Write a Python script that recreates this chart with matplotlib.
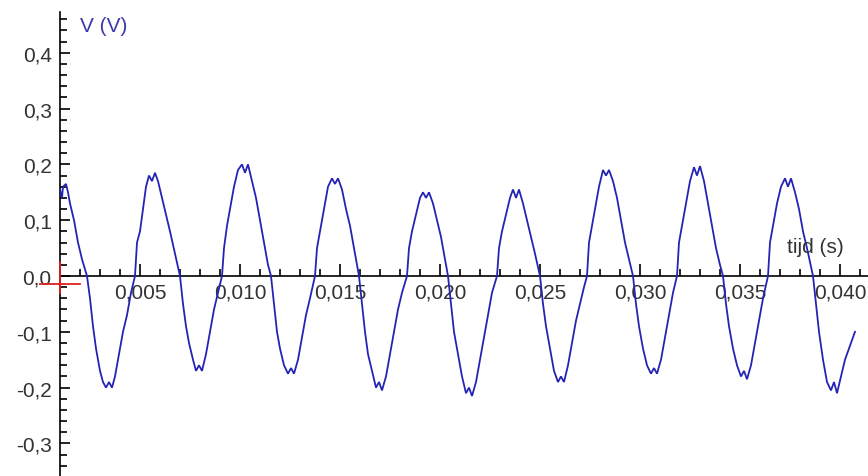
import matplotlib
matplotlib.use("Agg")
import matplotlib.pyplot as plt
from matplotlib.ticker import MultipleLocator, FuncFormatter, FixedLocator

# time in ms, voltage in V
t_ms = [1.00, 1.10, 1.15, 1.30, 1.40, 1.50, 1.70, 1.90, 2.10, 2.35, 2.50, 2.65, 2.80, 3.00, 3.15, 3.30, 3.45, 3.60, 3.75, 3.95,
        4.15, 4.35, 4.55, 4.75, 4.85, 5.00, 5.15, 5.30, 5.45, 5.60, 5.75, 5.90, 6.10, 6.30, 6.50, 6.75, 7.00, 7.15, 7.30, 7.45,
        7.65, 7.80, 7.95, 8.10, 8.30, 8.50, 8.70, 8.90, 9.10, 9.20, 9.35, 9.50, 9.70, 9.90, 10.10, 10.25, 10.40, 10.60, 10.80, 11.00,
        11.20, 11.40, 11.55, 11.70, 11.85, 12.00, 12.20, 12.40, 12.55, 12.70, 12.90, 13.10, 13.30, 13.50, 13.75, 13.85, 14.00, 14.20, 14.40, 14.60,
        14.75, 14.90, 15.10, 15.30, 15.50, 15.70, 15.95, 16.10, 16.25, 16.40, 16.60, 16.80, 16.95, 17.10, 17.30, 17.50, 17.70, 17.90, 18.10, 18.35,
        18.45, 18.60, 18.80, 19.00, 19.15, 19.30, 19.45, 19.65, 19.85, 20.05, 20.25, 20.40, 20.55, 20.70, 20.90, 21.10, 21.30, 21.45, 21.60, 21.80,
        22.00, 22.20, 22.40, 22.60, 22.85, 22.95, 23.10, 23.30, 23.50, 23.65, 23.80, 23.95, 24.15, 24.35, 24.55, 24.75, 25.00, 25.15, 25.30, 25.50,
        25.70, 25.90, 26.05, 26.20, 26.40, 26.60, 26.80, 27.00, 27.20, 27.35, 27.45, 27.60, 27.75, 27.95, 28.15, 28.30, 28.45, 28.65, 28.85, 29.05,
        29.25, 29.45, 29.65, 29.80, 29.95, 30.15, 30.35, 30.55, 30.70, 30.85, 31.05, 31.25, 31.45, 31.65, 31.85, 31.95, 32.10, 32.30, 32.50, 32.70,
        32.85, 33.00, 33.20, 33.40, 33.60, 33.80, 34.00, 34.15, 34.30, 34.45, 34.65, 34.85, 35.05, 35.20, 35.35, 35.55, 35.75, 35.95, 36.15, 36.40,
        36.50, 36.65, 36.85, 37.05, 37.25, 37.40, 37.55, 37.75, 37.95, 38.15, 38.35, 38.65, 38.80, 38.95, 39.15, 39.35, 39.55, 39.70, 39.85, 40.05,
        40.25, 40.45, 40.65, 40.75]
v_volt = [0.155, 0.140, 0.160, 0.165, 0.150, 0.130, 0.100, 0.060, 0.030, 0.000, -0.040, -0.090, -0.130, -0.170, -0.190, -0.200, -0.190, -0.200, -0.180, -0.140,
          -0.100, -0.070, -0.030, 0.000, 0.060, 0.080, 0.120, 0.160, 0.180, 0.170, 0.185, 0.170, 0.140, 0.110, 0.080, 0.040, 0.000, -0.050, -0.090, -0.120,
          -0.150, -0.170, -0.160, -0.170, -0.140, -0.100, -0.060, -0.030, 0.000, 0.050, 0.090, 0.120, 0.160, 0.190, 0.200, 0.185, 0.200, 0.170, 0.140, 0.100,
          0.060, 0.020, 0.000, -0.050, -0.100, -0.130, -0.160, -0.175, -0.165, -0.175, -0.150, -0.110, -0.070, -0.040, 0.000, 0.050, 0.080, 0.120, 0.160, 0.175,
          0.165, 0.175, 0.155, 0.120, 0.090, 0.050, 0.000, -0.050, -0.100, -0.140, -0.170, -0.200, -0.190, -0.205, -0.180, -0.140, -0.100, -0.060, -0.030, 0.000,
          0.050, 0.080, 0.110, 0.140, 0.150, 0.140, 0.150, 0.130, 0.100, 0.070, 0.030, 0.000, -0.050, -0.100, -0.140, -0.180, -0.210, -0.200, -0.215, -0.190,
          -0.150, -0.110, -0.070, -0.030, 0.000, 0.050, 0.080, 0.110, 0.140, 0.155, 0.140, 0.155, 0.130, 0.100, 0.070, 0.040, 0.000, -0.050, -0.090, -0.130,
          -0.170, -0.190, -0.180, -0.190, -0.160, -0.120, -0.080, -0.050, -0.020, 0.000, 0.060, 0.090, 0.120, 0.160, 0.190, 0.180, 0.190, 0.170, 0.140, 0.100,
          0.060, 0.030, 0.000, -0.050, -0.090, -0.130, -0.160, -0.175, -0.165, -0.175, -0.150, -0.110, -0.070, -0.030, 0.000, 0.060, 0.090, 0.130, 0.170, 0.195,
          0.180, 0.197, 0.170, 0.130, 0.090, 0.050, 0.020, 0.000, -0.050, -0.090, -0.130, -0.160, -0.180, -0.170, -0.185, -0.160, -0.120, -0.080, -0.040, 0.000,
          0.060, 0.090, 0.130, 0.160, 0.175, 0.160, 0.175, 0.150, 0.120, 0.080, 0.050, 0.000, -0.050, -0.100, -0.150, -0.190, -0.205, -0.190, -0.210, -0.180,
          -0.150, -0.130, -0.110, -0.100]

x_ticks = [0.005, 0.010, 0.015, 0.020, 0.025, 0.030, 0.035, 0.040]
y_ticks = [-0.3, -0.2, -0.1, 0.0, 0.1, 0.2, 0.3, 0.4]
x_label = "tijd (s)"
y_label = "V (V)"

plt.rcParams['font.family'] = ['Liberation Sans', 'DejaVu Sans']

W, H = 868, 477
fig = plt.figure(figsize=(W / 100, H / 100), dpi=100)
ax = fig.add_axes([60 / W, 0, (W - 60) / W, (H - 13) / H])

t_s = [t / 1000.0 for t in t_ms]
ax.plot(t_s, v_volt, color='#2424b4', lw=1.3, solid_joinstyle='miter', zorder=3)

ax.set_xlim(0.001, 0.0414)
ax.set_ylim(-0.3584, 0.4731)

for s in ['top', 'right']:
    ax.spines[s].set_visible(False)
ax.spines['bottom'].set_position(('data', 0))
ax.spines['left'].set_color('black')
ax.spines['bottom'].set_color('black')
ax.spines['left'].set_linewidth(1.2)
ax.spines['bottom'].set_linewidth(1.2)

ax.xaxis.set_major_locator(FixedLocator(x_ticks))
ax.xaxis.set_minor_locator(MultipleLocator(0.001))
ax.xaxis.set_major_formatter(FuncFormatter(lambda v, p: f"{v:.3f}".replace('.', ',')))
ax.yaxis.set_major_locator(FixedLocator(y_ticks))
ax.yaxis.set_minor_locator(MultipleLocator(0.02))
ax.yaxis.set_major_formatter(FuncFormatter(lambda v, p: f"{v:.1f}".replace('.', ',').replace('-0,0', '0,0')))

ax.tick_params(axis='x', which='major', direction='in', length=9, width=1.2, pad=5,
               labelsize=15, labelcolor='#333333', colors='black')
ax.tick_params(axis='x', which='minor', direction='in', length=5, width=1.2)
ax.tick_params(axis='y', which='major', direction='in', length=7, width=1.2, pad=6,
               labelsize=15, labelcolor='#333333', colors='black')
ax.tick_params(axis='y', which='minor', direction='in', length=5, width=1.2)
for lab in ax.get_yticklabels() + ax.get_xticklabels():
    lab.set_color('#333333')

ax.patch.set_alpha(0)

# axis titles
fig.text(80 / W, 1 - 26 / H, y_label, fontsize=15, color='#3a3aa8', ha='left', va='center')
fig.text(787 / W, 1 - 248 / H, x_label, fontsize=15, color='#333333', ha='left', va='center')

# red cursor cross at origin
ax.plot([0.0, 0.002], [-0.0143, -0.0143], color='#e02020', lw=1.3, clip_on=False, zorder=5)
ax.plot([0.001, 0.001], [0.025, -0.03], color='#e02020', lw=1.3, clip_on=False, zorder=5)

fig.savefig('out.png', dpi=100, facecolor='white')
